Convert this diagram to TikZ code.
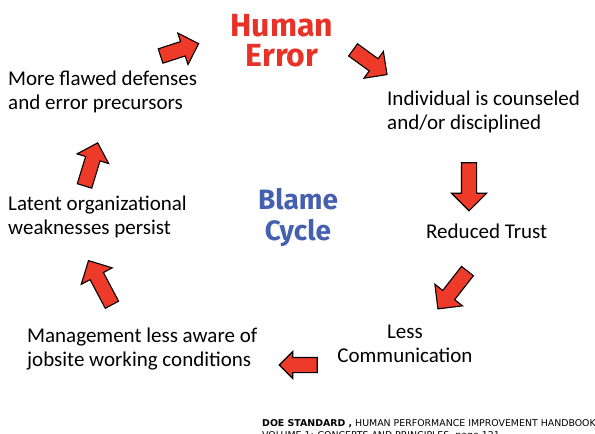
\documentclass[tikz,border=0pt]{standalone}
\usepackage{fontspec}
\setmainfont{Carlito}
\newfontfamily\titlefont{Fira Sans}
\newfontfamily\notefont{DejaVu Sans}
\usetikzlibrary{shapes.arrows}
\definecolor{errred}{RGB}{232,50,40}
\definecolor{blameblue}{RGB}{70,96,176}
\definecolor{arrowred}{RGB}{238,58,40}
\tikzstyle{blockarrow}=[single arrow,draw=black,fill=arrowred,line width=1.1pt,inner xsep=0pt,inner ysep=7pt]
\tikzstyle{steptext}=[align=left,anchor=west,inner sep=0pt,font=\fontsize{21}{24}\selectfont]
\tikzstyle{titletext}=[align=center,inner sep=0pt,font=\titlefont\bfseries\fontsize{32}{30}\selectfont]

\begin{document}
\begin{tikzpicture}[x=1pt,y=-1pt]
    \useasboundingbox (0,0) rectangle (595,434);
    % titles
    \node[titletext,text=errred] (error) at (282,41) {Human\\Error};
    \node[titletext,text=blameblue,font=\titlefont\bfseries\fontsize{28}{31}\selectfont] (blame) at (298,217) {Blame\\Cycle};
    % the steps of the cycle
    \node[steptext] (counsel) at (387,112) {Individual is counseled\\and/or disciplined};
    \node[steptext] (trust) at (426,231) {Reduced Trust};
    \node[steptext,align=center,anchor=center] (comm) at (405,344) {Less\\Communication};
    \node[steptext] (aware) at (27,349) {Management less aware of\\jobsite working conditions};
    \node[steptext] (latent) at (8,217) {Latent organizational\\weaknesses persist};
    \node[steptext] (flawed) at (8,92) {More flawed defenses\\and error precursors};
    % the arrows between them
    \foreach \pos/\ang/\len/\ext/\name in {{(176,51)/18/40/9/a1}, {(367,60)/-36/42/9/a2}, {(469,183)/-90/48/10/a3}, {(455,287)/232/48/10/a4}, {(302,365)/180/38/6/a5}, {(102,286)/118/50/10/a6}, {(90,168)/73/45/9/a7}}
        \node[blockarrow,minimum height=\len pt,single arrow head extend=\ext pt,rotate=\ang] (\name) at \pos {};
    % source
    \node[anchor=base west,inner sep=0pt,align=left,font=\notefont\fontsize{9.4}{12}\selectfont] (source) at (262,438)
        {\textbf{DOE STANDARD ,} HUMAN PERFORMANCE IMPROVEMENT HANDBOOK\\VOLUME 1: CONCEPTS AND PRINCIPLES, page 121};
\end{tikzpicture}
\end{document}
